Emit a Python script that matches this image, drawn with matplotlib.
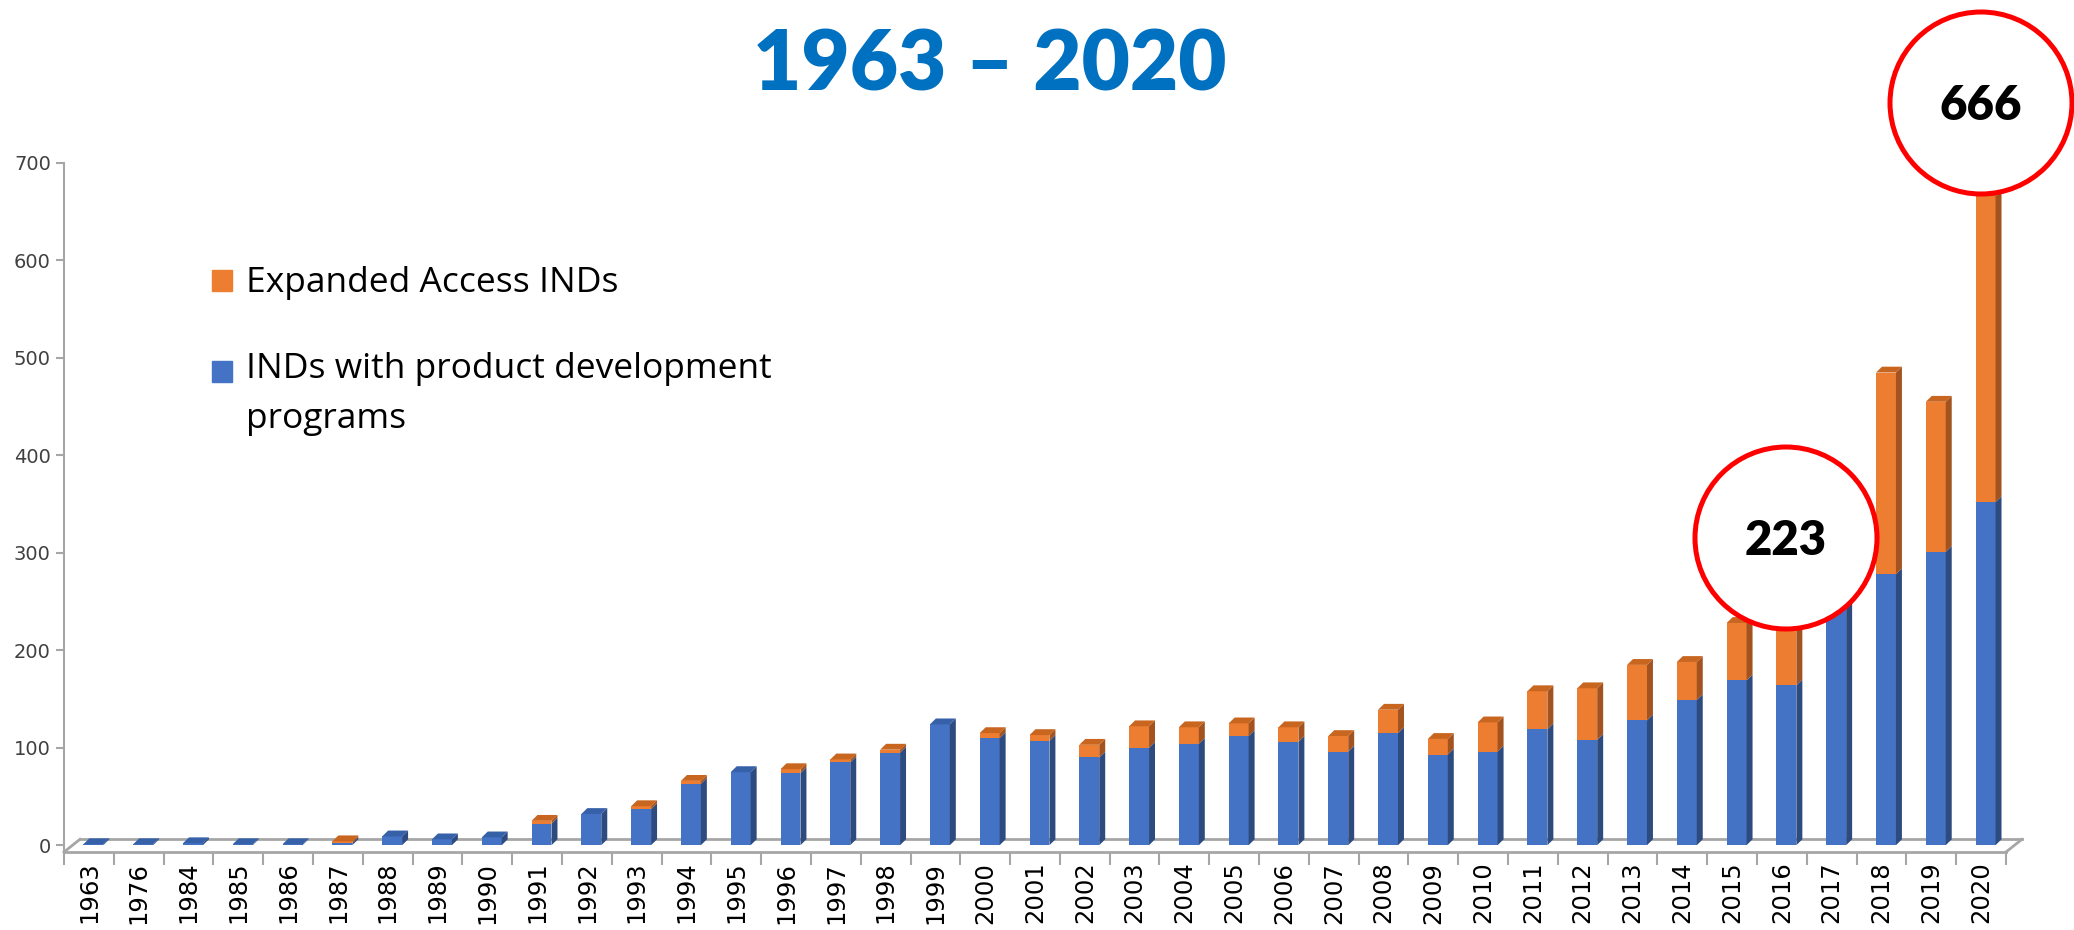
import matplotlib
matplotlib.use("Agg")
import matplotlib.pyplot as plt
from matplotlib.patches import Ellipse, Rectangle
from matplotlib.collections import PolyCollection

years = ["1963", "1976", "1984", "1985", "1986", "1987"] + [str(y) for y in range(1988, 2021)]
product_dev = [1, 1, 2, 1, 1, 2, 9, 6, 8, 22, 32, 37, 63, 75, 74, 85, 95, 124, 110, 107,
               90, 100, 104, 112, 106, 96, 115, 93, 96, 119, 108, 128, 149, 169, 164, 245,
               278, 301, 352]
expanded = [0, 0, 0, 0, 0, 2, 0, 0, 0, 3, 0, 3, 3, 0, 4, 3, 3, 0, 5, 6,
            13, 22, 17, 13, 15, 16, 24, 16, 30, 39, 53, 57, 39, 59, 59, 10,
            207, 154, 314]
callouts = [("2016", "223"), ("2020", "666")]

BLUE, BLUE_SIDE, BLUE_TOP = "#4472C4", "#2E4B80", "#3660A8"
ORANGE, ORANGE_SIDE, ORANGE_TOP = "#ED7D31", "#A3531F", "#C8651F"
GRID = "#A6A6A6"

W, H = 2074, 930
fig = plt.figure(figsize=(W / 100, H / 100), dpi=100)
# axes placed so that category edges and the 0..700 range sit where the reference has them
ax = fig.add_axes([64 / W, (H - 852) / H, 1942 / W, 689 / H])
ax.set_xlim(-0.5, len(years) - 0.5)
ax.set_ylim(-7, 700)

xs = [i + 0.09 for i in range(len(years))]
bw, dx, dy = 0.40, 0.12, 6
ax.bar(xs, product_dev, width=bw, color=BLUE, zorder=3)
ax.bar(xs, expanded, width=bw, bottom=product_dev, color=ORANGE, zorder=3)

# fake 3D: side and top faces
sides, side_cols, tops, top_cols = [], [], [], []
for x, b, o in zip(xs, product_dev, expanded):
    r = x + bw / 2
    l = x - bw / 2
    sides.append([(r, 0), (r + dx, dy), (r + dx, b + dy), (r, b)])
    side_cols.append(BLUE_SIDE)
    if o > 0:
        sides.append([(r, b), (r + dx, b + dy), (r + dx, b + o + dy), (r, b + o)])
        side_cols.append(ORANGE_SIDE)
    t = b + o
    tops.append([(l, t), (l + dx, t + dy), (r + dx, t + dy), (r, t)])
    top_cols.append(ORANGE_TOP if o > 0 else BLUE_TOP)
ax.add_collection(PolyCollection(sides, facecolors=side_cols, edgecolors="none", zorder=3))
ax.add_collection(PolyCollection(tops, facecolors=top_cols, edgecolors="none", zorder=3))

# floor of the 3D chart
n = len(years)
fx, fy = 0.32, 13
ax.plot([-0.5, n - 0.5], [-7, -7], color=GRID, lw=2, zorder=2, clip_on=False)
ax.plot([-0.5 + fx, n - 0.5 + fx], [-7 + fy, -7 + fy], color=GRID, lw=2, zorder=1, clip_on=False)
ax.plot([-0.5, -0.5 + fx], [-7, -7 + fy], color=GRID, lw=2, zorder=2, clip_on=False)
ax.plot([n - 0.5, n - 0.5 + fx], [-7, -7 + fy], color=GRID, lw=2, zorder=2, clip_on=False)

for s in ["top", "right", "bottom"]:
    ax.spines[s].set_visible(False)
ax.spines["left"].set_color(GRID)
ax.spines["left"].set_linewidth(1.5)
ax.set_yticks(range(0, 701, 100))
ax.tick_params(axis="y", colors=GRID, labelcolor="#404040", labelsize=14, length=6, width=1.5)
ax.set_xticks(range(n))
ax.set_xticklabels(years, rotation=90, fontsize=17.5, color="black")
ax.set_xticks([i - 0.5 for i in range(n + 1)], minor=True)
ax.tick_params(axis="x", which="major", length=0, pad=7)
ax.tick_params(axis="x", which="minor", length=9, width=1.5, color=GRID, direction="out")
ax.set_facecolor("none")

fig.text(990 / W, 1 - 66 / H, "1963 – 2020", fontsize=60, fontweight="heavy",
         family="Lato", color="#0070C0", ha="center", va="center")

# legend drawn by hand to get the loose spacing of the original
fig.add_artist(Rectangle((212 / W, 1 - 291 / H), 20 / W, 21 / H, color=ORANGE,
                         transform=fig.transFigure))
fig.add_artist(Rectangle((212 / W, 1 - 382 / H), 20 / W, 21 / H, color=BLUE,
                         transform=fig.transFigure))
fig.text(246 / W, 1 - 283 / H, "Expanded Access INDs", fontsize=25.5, family="Open Sans",
         va="center", ha="left")
fig.text(246 / W, 1 - 352 / H, "INDs with product development\nprograms", fontsize=25.5,
         family="Open Sans", va="top", ha="left", linespacing=1.6)

# red callout circles
centers = {"2016": (1786, 538), "2020": (1981, 103)}
for yr, label in callouts:
    cx, cy = centers[yr]
    fig.add_artist(Ellipse((cx / W, 1 - cy / H), 182 / W, 182 / H, facecolor="white",
                           edgecolor="#FF0000", lw=3.6, transform=fig.transFigure, zorder=5))
    fig.text(cx / W, 1 - (cy + 3) / H, label, fontsize=34, fontweight="heavy", family="Lato",
             ha="center", va="center", zorder=6)

fig.savefig("out.png", dpi=100)
